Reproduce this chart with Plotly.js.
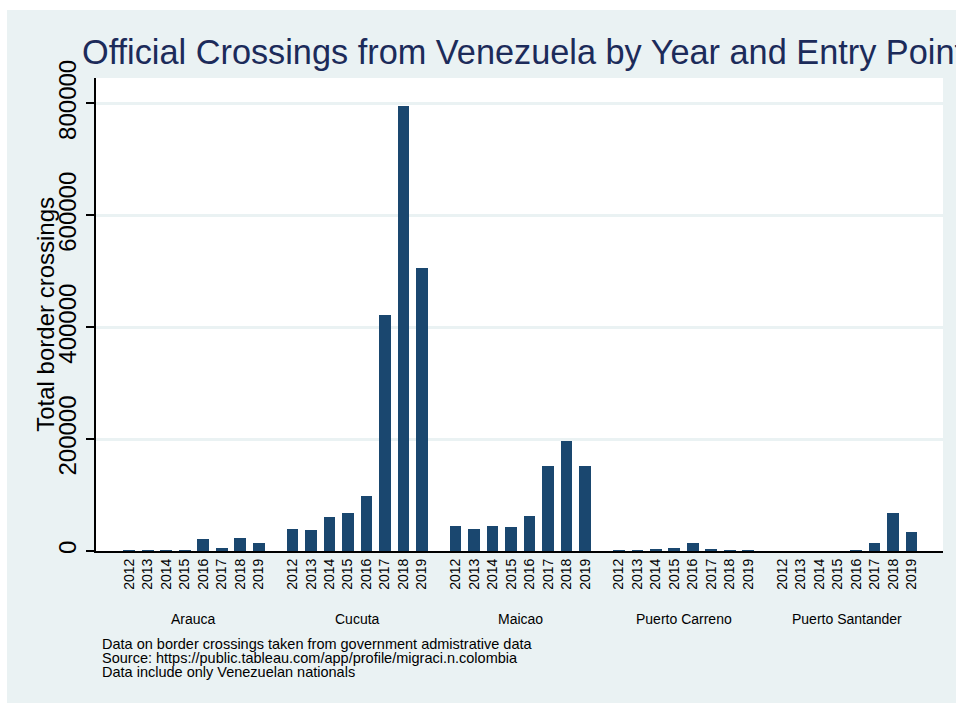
<!DOCTYPE html>
<html>
<head>
<meta charset="utf-8">
<script src="https://cdn.plot.ly/plotly-3.0.1.min.js"></script>
<style>
  html, body { margin: 0; padding: 0; background: #ffffff; overflow: hidden; width: 956px; height: 703px; }
  #chart { position: absolute; left: 7px; top: 10px; width: 949px; height: 693px; }
</style>
</head>
<body>
<div id="chart"></div>
<script>
// ---- data ----
var entryPoints = ['Arauca', 'Cucuta', 'Maicao', 'Puerto Carreno', 'Puerto Santander'];
var years = ['2012', '2013', '2014', '2015', '2016', '2017', '2018', '2019'];
var arauca          = [2000, 2500, 2500, 2500, 22000, 4500, 24000, 13500];
var cucuta          = [40000, 38000, 61500, 68500, 99000, 422000, 795000, 506000];
var maicao          = [45300, 40000, 45300, 43500, 63000, 152000, 197000, 152000];
var puertoCarreno   = [2000, 2000, 4000, 6000, 13500, 4000, 1500, 1500];
var puertoSantander = [0, 0, 0, 0, 1500, 13500, 68600, 34600];
var yTickVals = [0, 200000, 400000, 600000, 800000];
var yTickText = ['0', '200000', '400000', '600000', '800000'];
var notes = [
  'Data on border crossings taken from government admistrative data',
  'Source: https://public.tableau.com/app/profile/migraci.n.colombia',
  'Data include only Venezuelan nationals'
];

// ---- layout helpers ----
var series = [arauca, cucuta, maicao, puertoCarreno, puertoSantander];
var stride = 8.826;           // group stride in bar slots (includes gap)
var xs = [], ys = [], tickVals = [], tickText = [], groupCenters = [];
series.forEach(function (vals, g) {
  vals.forEach(function (v, i) {
    var p = g * stride + i;
    xs.push(p); ys.push(v);
    tickVals.push(p); tickText.push(years[i]);
  });
  groupCenters.push(g * stride + (years.length - 1) / 2);
});

var font = 'Liberation Sans, Arial, Helvetica, sans-serif';

var annotations = [];
entryPoints.forEach(function (name, g) {
  annotations.push({
    text: name, x: groupCenters[g], xref: 'x', y: -0.1438, yref: 'paper',
    xanchor: 'center', yanchor: 'middle', showarrow: false,
    font: {family: font, size: 14, color: '#000000'}
  });
});
var noteY = [-0.1966, -0.2262, -0.2558];
notes.forEach(function (t, k) {
  annotations.push({
    text: t, x: 0.0050, xref: 'paper', y: noteY[k], yref: 'paper',
    xanchor: 'left', yanchor: 'middle', showarrow: false,
    font: {family: font, size: 14.5, color: '#000000'}
  });
});
annotations.push({
  text: 'Total border crossings', textangle: -90,
  x: -0.0590, xref: 'paper', y: 0.4995, yref: 'paper',
  xanchor: 'center', yanchor: 'middle', showarrow: false,
  font: {family: font, size: 24, color: '#000000'}
});

var trace = {
  type: 'bar', x: xs, y: ys, width: 0.63,
  marker: {color: '#1a476f', line: {width: 0}},
  hoverinfo: 'skip'
};

var layout = {
  width: 949, height: 693,
  margin: {l: 89, r: 13, t: 68, b: 152},
  paper_bgcolor: '#eaf2f3',
  plot_bgcolor: '#ffffff',
  showlegend: false,
  title: {
    text: 'Official Crossings from Venezuela by Year and Entry Point',
    xref: 'container', x: 0.079, xanchor: 'left',
    yref: 'container', y: 0.940, yanchor: 'middle',
    font: {family: font, size: 34.3, color: '#1c2b5a'}
  },
  xaxis: {
    range: [-1.80, 44.01],
    tickmode: 'array', tickvals: tickVals, ticktext: tickText,
    tickangle: -90, ticks: '', showgrid: false, zeroline: false,
    showline: true, linecolor: '#000000', linewidth: 2,
    tickfont: {family: font, size: 14, color: '#000000'}
  },
  yaxis: {
    range: [0, 845500],
    tickmode: 'array', tickvals: yTickVals, ticktext: yTickText,
    tickangle: -90, ticks: 'outside', ticklen: 8, tickwidth: 2, tickcolor: '#000000',
    showline: true, linecolor: '#000000', linewidth: 2,
    showgrid: true, gridcolor: '#eaf2f3', gridwidth: 3,
    zeroline: false,
    tickfont: {family: font, size: 24, color: '#000000'}
  },
  annotations: annotations,
  bargap: 0
};

Plotly.newPlot('chart', [trace], layout, {staticPlot: true, displayModeBar: false});
</script>
</body>
</html>
